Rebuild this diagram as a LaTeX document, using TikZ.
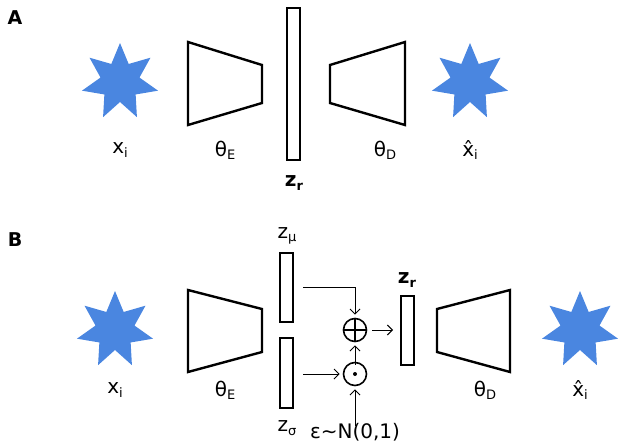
\documentclass[tikz,border=0pt]{standalone}
\usepackage{fontspec}
\setmainfont{DejaVu Sans}
\usetikzlibrary{arrows.meta}
\newcommand{\sbs}[2]{#1\raisebox{-0.3ex}{\fontsize{13}{14}\selectfont #2}}
\begin{document}
\begin{tikzpicture}[x=1pt,y=-1pt,
  lbl/.style={font=\fontsize{20}{24}\selectfont, inner sep=0pt},
  box/.style={draw=black, line width=2.4pt},
  arr/.style={-{Straight Barb[length=5pt,width=10pt,line width=1pt]}, line width=1pt},
  op/.style={circle, draw=black, line width=1.6pt, minimum size=23pt, inner sep=0pt}]
\useasboundingbox (0,0) rectangle (624,447);
\definecolor{starblue}{HTML}{4A86E0}
\newcommand{\bluestar}[2]{\fill[starblue] plot[samples at={0,...,13}] ({#1+ifthenelse(mod(\x,2)==0,39,20)*sin(\x*180/7)},{#2-ifthenelse(mod(\x,2)==0,39,20)*cos(\x*180/7)}) -- cycle;}
% Panel A
\node[font=\fontsize{19}{22}\selectfont\bfseries] (A) at (15,18) {A};
\bluestar{120}{82}
\draw[box] (188,42) -- (262,65) -- (262,103) -- (188,125) -- cycle;
\draw[box] (287,8) rectangle (300,160);
\draw[box] (330,65) -- (405,42) -- (405,125) -- (330,103) -- cycle;
\bluestar{470}{82}
\node[lbl] (xa) at (120,150) {\sbs{x}{i}};
\node[lbl] (ta) at (225,150) {\sbs{θ}{E}};
\node[lbl,font=\fontsize{20}{24}\selectfont\bfseries] (zra) at (294,183) {\sbs{z}{\bfseries r}};
\node[lbl] (td) at (385,150) {\sbs{θ}{D}};
\node[lbl] (xha) at (470,150) {\sbs{x̂}{i}};
% Panel B
\node[font=\fontsize{19}{22}\selectfont\bfseries] (B) at (15,240) {B};
\bluestar{115}{330}
\draw[box] (188,290) -- (262,309) -- (262,352) -- (188,372) -- cycle;
\draw[box] (280,253) rectangle (293,322);
\draw[box] (280,338) rectangle (293,408);
\node[lbl] (zm) at (287,236) {\sbs{z}{μ}};
\node[lbl] (zs) at (287,428) {\sbs{z}{σ}};
\node[op] (plus) at (355,330) {};
\draw[line width=1.6pt] (plus.north) -- (plus.south) (plus.west) -- (plus.east);
\node[op] (dot) at (355,374) {};
\fill (dot.center) circle (2pt);
\node[lbl] (eps) at (355,432) {ε\textasciitilde N(0,1)};
\coordinate (m0) at (303,287);
\coordinate (s0) at (303,374);
\draw[arr] (m0) -| ([yshift=3pt]plus.north);
\draw[arr] (s0) -- ([xshift=-3pt]dot.west);
\draw[arr] ([yshift=-3pt]dot.north) -- ([yshift=-3pt]plus.south);
\draw[arr] ([yshift=-3pt]eps.north) -- ([yshift=-3pt]dot.south);
\draw[box] (401,296) rectangle (414,365);
\coordinate (zrin) at (393,330);
\draw[arr] (plus.east) ++(5,0) -- (zrin);
\node[lbl,font=\fontsize{20}{24}\selectfont\bfseries] (zrb) at (407,280) {\sbs{z}{\bfseries r}};
\draw[box] (437,309) -- (510,290) -- (510,372) -- (437,352) -- cycle;
\bluestar{580}{330}
\node[lbl] (xb) at (115,390) {\sbs{x}{i}};
\node[lbl] (tbe) at (225,390) {\sbs{θ}{E}};
\node[lbl] (tbd) at (485,390) {\sbs{θ}{D}};
\node[lbl] (xhb) at (580,390) {\sbs{x̂}{i}};
\end{tikzpicture}
\end{document}
